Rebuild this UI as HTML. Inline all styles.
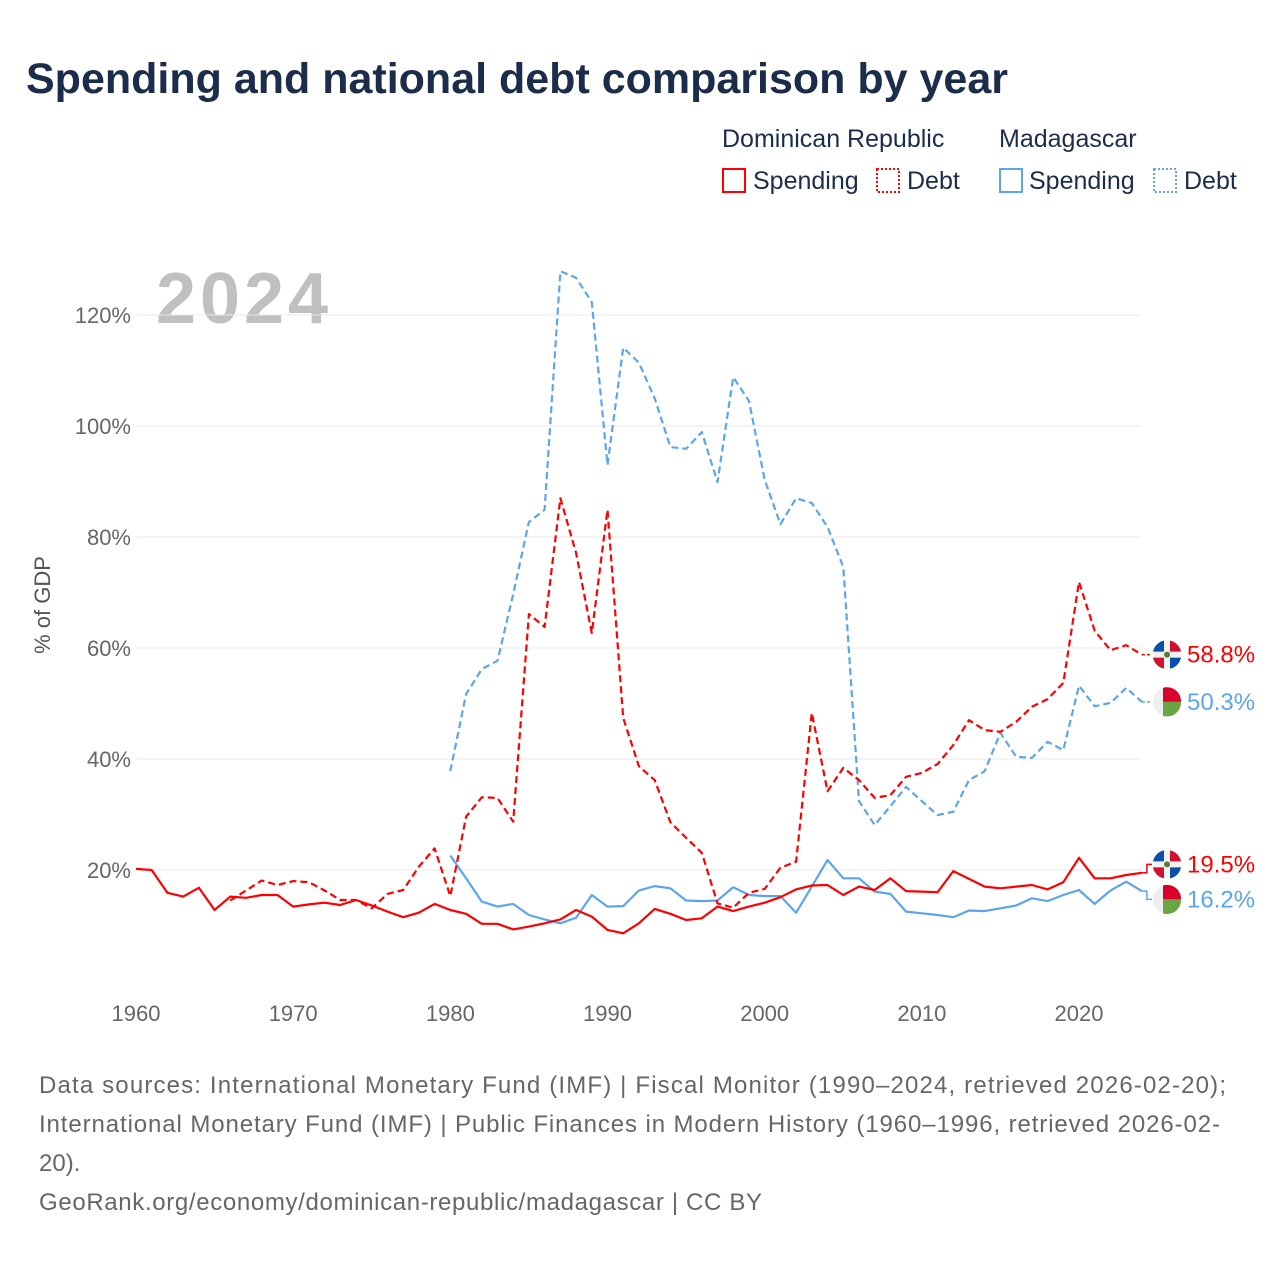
<!DOCTYPE html>
<html><head><meta charset="utf-8">
<style>
body{margin:0;width:1280px;height:1280px;background:#fff;font-family:"Liberation Sans",sans-serif;overflow:hidden}
#wrap{position:relative;width:1280px;height:1280px}
</style></head>
<body>
<div id="wrap">
<svg id="chart" width="1280" height="1280" font-family="Liberation Sans, sans-serif">
<text x="26" y="93" font-size="43" font-weight="bold" fill="#1b2d4b">Spending and national debt comparison by year</text>
<g font-size="25" fill="#1b2d4b">
<text x="722" y="147">Dominican Republic</text>
<text x="999" y="147">Madagascar</text>
<rect x="723" y="169" width="22" height="23" fill="none" stroke="#ff0000" stroke-width="2"/>
<text x="753" y="189">Spending</text>
<rect x="877" y="169" width="22" height="23" fill="none" stroke="#ff0000" stroke-width="2" stroke-dasharray="2,2"/>
<text x="907" y="189">Debt</text>
<rect x="1000" y="169" width="22" height="23" fill="none" stroke="#5ba6eb" stroke-width="2"/>
<text x="1029" y="189">Spending</text>
<rect x="1154" y="169" width="22" height="23" fill="none" stroke="#5ba6eb" stroke-width="2" stroke-dasharray="2,2"/>
<text x="1184" y="189">Debt</text>
</g>
<text x="156" y="323" font-size="72" font-weight="bold" fill="#c0c0c0" textLength="172">2024</text>
<text transform="translate(50,605) rotate(-90)" text-anchor="middle" font-size="22" fill="#555">% of GDP</text>
<g id="grid"></g><g id="series"></g><g id="labels"></g>
<g font-size="24" fill="#666">
<text x="39" y="1093" textLength="1187">Data sources: International Monetary Fund (IMF) | Fiscal Monitor (1990–2024, retrieved 2026-02-20);</text>
<text x="39" y="1132" textLength="1181">International Monetary Fund (IMF) | Public Finances in Modern History (1960–1996, retrieved 2026-02-</text>
<text x="39" y="1171">20).</text>
<text x="39" y="1210" textLength="723">GeoRank.org/economy/dominican-republic/madagascar | CC BY</text>
</g>
</svg>
</div>
<script>
const yTicks=[20,40,60,80,100,120];
const xTicks=[1960,1970,1980,1990,2000,2010,2020];
const drSpendStart=1960;
const drSpending=[20.2,20.0,15.9,15.2,16.8,12.8,15.2,15.0,15.5,15.5,13.4,13.8,14.1,13.7,14.6,13.6,12.5,11.5,12.3,13.9,12.8,12.1,10.3,10.3,9.3,9.8,10.4,11.1,12.8,11.6,9.2,8.6,10.4,13.0,12.1,11.0,11.3,13.4,12.6,13.4,14.1,15.1,16.5,17.2,17.3,15.5,17.0,16.4,18.5,16.2,16.1,16.0,19.8,18.4,17.0,16.7,17.0,17.3,16.5,17.8,22.2,18.5,18.5,19.1,19.5];
const drDebtStart=1966;
const drDebt=[14.5,16.3,18.1,17.3,18.0,17.8,16.3,14.6,14.6,13.1,15.7,16.4,20.6,23.9,15.3,29.6,33.1,33.0,28.7,66.1,63.8,87.0,77.1,62.7,84.9,47.4,38.7,36.2,28.6,25.8,23.1,14.0,13.2,15.9,16.6,20.4,21.5,48.3,34.2,38.4,36.2,33.0,33.5,36.8,37.5,39.1,42.5,47.0,45.2,44.9,46.7,49.4,50.8,53.7,71.9,63.1,59.6,60.5,58.8];
const mgSpendStart=1980;
const mgSpending=[22.6,18.5,14.3,13.4,13.9,11.9,11.1,10.4,11.4,15.5,13.4,13.5,16.3,17.1,16.7,14.5,14.4,14.5,16.9,15.5,15.3,15.3,12.3,17.0,21.8,18.5,18.5,16.1,15.7,12.5,12.2,11.9,11.5,12.7,12.6,13.1,13.6,14.9,14.4,15.5,16.4,13.9,16.3,17.9,16.2];
const mgDebtStart=1980;
const mgDebt=[37.8,51.7,56.2,57.7,69.7,82.7,84.9,127.9,126.7,122.3,93.0,114.1,111.4,105.0,96.2,95.9,98.9,89.9,108.8,104.5,90.3,82.3,87.0,86.1,81.8,74.6,32.4,28.1,31.5,35.0,32.4,29.9,30.5,36.2,37.8,44.7,40.4,40.2,43.1,41.6,53.2,49.5,50.1,52.8,50.3];

const NS='http://www.w3.org/2000/svg';
const X=yr=>136+(yr-1960)*15.717;
const Y=v=>981-v*5.55;
function mk(tag,attrs,parent){const e=document.createElementNS(NS,tag);for(const k in attrs)e.setAttribute(k,attrs[k]);parent.appendChild(e);return e;}
const grid=document.getElementById('grid'),series=document.getElementById('series'),labels=document.getElementById('labels');
yTicks.forEach(t=>{
  const l=mk('line',{x1:137,x2:1141,y1:Y(t),y2:Y(t),stroke:'#e8e8e8','stroke-width':1},grid);
  
  
  const tx=mk('text',{x:131,y:Y(t)+8,'text-anchor':'end','font-size':22,fill:'#666'},grid);
  tx.textContent=t+'%';
  
  
});
xTicks.forEach(t=>{
  const tx=mk('text',{x:X(t),y:1021,'text-anchor':'middle','font-size':22,fill:'#666'},grid);
  tx.textContent=t;
  
  
});
function line(vals,start,color,dash,name){
  const pts=vals.map((v,i)=>X(start+i).toFixed(1)+','+Y(v).toFixed(1)).join(' ');
  const p=mk('polyline',{points:pts,fill:'none',stroke:color,'stroke-width':2.2,'stroke-linejoin':'round'},series);
  if(dash)p.setAttribute('stroke-dasharray','7,4');
  
  
}
line(mgDebt,mgDebtStart,'#5ba6eb',true,'madagascar-debt-line');
line(mgSpending,mgSpendStart,'#5ba6eb',false,'madagascar-spending-line');
line(drDebt,drDebtStart,'#ff0000',true,'dominican-debt-line');
line(drSpending,drSpendStart,'#ff0000',false,'dominican-spending-line');

const ends=[
 {vals:drDebt,start:drDebtStart,color:'#ff0000',dash:true,flag:'dr',name:'dr-debt-end-label'},
 {vals:mgDebt,start:mgDebtStart,color:'#5ba6eb',dash:true,flag:'mg',name:'mg-debt-end-label'},
 {vals:drSpending,start:drSpendStart,color:'#ff0000',dash:false,flag:'dr',name:'dr-spending-end-label'},
 {vals:mgSpending,start:mgSpendStart,color:'#5ba6eb',dash:false,flag:'mg',name:'mg-spending-end-label'}
];
ends.forEach(e=>{e.v=e.vals[e.vals.length-1];e.yr=e.start+e.vals.length-1;e.y=Y(e.v);e.ly=e.y;});
const sorted=ends.slice().sort((a,b)=>a.y-b.y);
const GAP=35;
for(let it=0;it<20;it++){
  for(let i=0;i<sorted.length-1;i++){
    const a=sorted[i],b=sorted[i+1];
    if(b.ly-a.ly<GAP){const d=(GAP-(b.ly-a.ly))/2;a.ly-=d;b.ly+=d;}
  }
}
ends.forEach(e=>{
  const y=e.y,ly=e.ly,color=e.color;
  const c=mk('g',{},labels);
  
  
  const x0=X(e.yr);
  const conn=mk('polyline',{points:`${x0},${y} ${x0+5},${y} ${x0+5},${ly} 1152,${ly}`,fill:'none',stroke:color,'stroke-width':1.5},c);
  if(e.dash)conn.setAttribute('stroke-dasharray','3,2');
  const cx=1167;
  if(e.flag==='dr'){
    mk('circle',{cx:cx,cy:ly,r:14,fill:'#f2f2f2'},c);
    mk('path',{d:`M${cx-14},${ly-3} A14,14 0 0 1 ${cx-3},${ly-14} L${cx-3},${ly-3}Z`,fill:'#0a4fa8'},c);
    mk('path',{d:`M${cx+3},${ly-14} A14,14 0 0 1 ${cx+14},${ly-3} L${cx+3},${ly-3}Z`,fill:'#d0102e'},c);
    mk('path',{d:`M${cx-14},${ly+3} L${cx-3},${ly+3} L${cx-3},${ly+14} A14,14 0 0 1 ${cx-14},${ly+3}Z`,fill:'#d0102e'},c);
    mk('path',{d:`M${cx+3},${ly+3} L${cx+14},${ly+3} A14,14 0 0 1 ${cx+3},${ly+14}Z`,fill:'#0a4fa8'},c);
    mk('circle',{cx:cx,cy:ly,r:3,fill:'#5a7a3a'},c);
  } else {
    mk('circle',{cx:cx,cy:ly,r:14,fill:'#eeeeee'},c);
    mk('path',{d:`M${cx-4},${ly-14} A14,14 0 0 1 ${cx+14},${ly} L${cx-4},${ly}Z`,fill:'#d9002b'},c);
    mk('path',{d:`M${cx-4},${ly} L${cx+14},${ly} A14,14 0 0 1 ${cx-4},${ly+14}Z`,fill:'#6aa544'},c);
  }
  const t=mk('text',{x:1187,y:ly+8,'font-size':24,fill:color},c);
  t.textContent=e.v.toFixed(1)+'%';
});
</script>
</body></html>
